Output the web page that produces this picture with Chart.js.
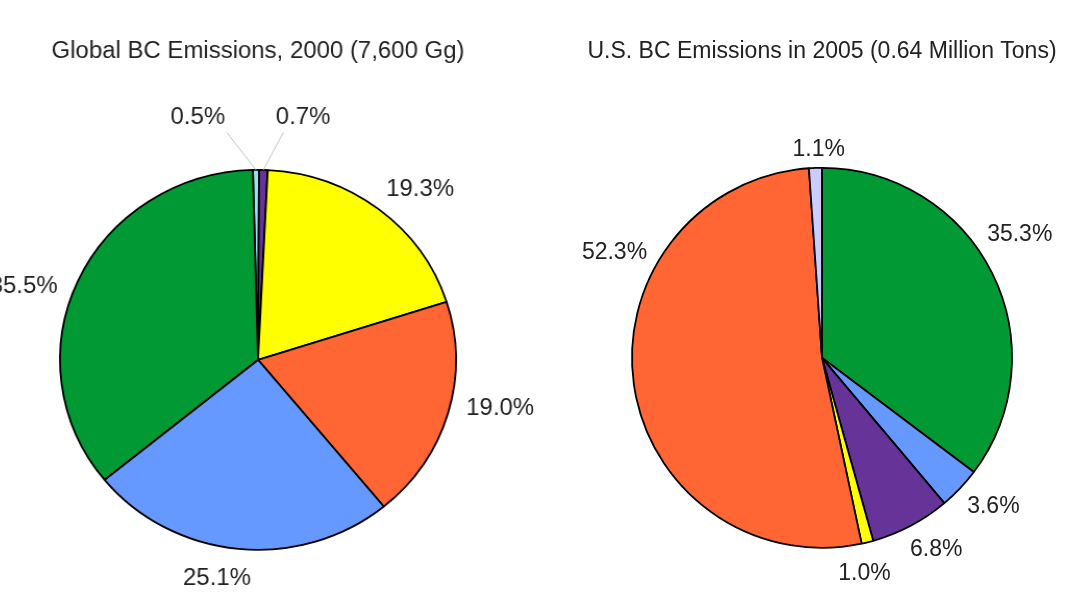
<!DOCTYPE html>
<html>
<head>
<meta charset="utf-8">
<script src="https://cdn.jsdelivr.net/npm/chart.js@4"></script>
<style>
  html, body { margin: 0; padding: 0; background: #fff; width: 1066px; height: 592px; overflow: hidden; }
  .pane { position: absolute; top: 0; height: 592px; }
  /* the global panel is drawn slightly wider than tall */
  #globalPane { left: 0; width: 560px; transform: scaleX(1.042); transform-origin: 258px 0; }
  #usPane { left: 560px; width: 506px; }
</style>
</head>
<body>
<div class="pane" id="globalPane"><canvas id="globalChart"></canvas></div>
<div class="pane" id="usPane"><canvas id="usChart"></canvas></div>
<script>
// Black-carbon emissions by source sector, percent of total
const globalSectors = ['Other', 'Energy', 'Industry', 'Mobile sources', 'Residential', 'Open biomass burning'];
const globalShares  = [0.5, 0.7, 19.3, 19.0, 25.1, 35.5];
const globalColors  = ['#93e2ef', '#663399', '#ffff00', '#ff6633', '#6699ff', '#009933'];

const usSectors = ['Open biomass burning', 'Residential', 'Industry', 'Energy', 'Mobile sources', 'Other'];
const usShares  = [35.3, 3.6, 6.8, 1.0, 52.3, 1.1];
const usColors  = ['#009933', '#6699ff', '#663399', '#ffff00', '#ff6633', '#ccccff'];

// Where each percentage label sits: degrees turned from the slice middle,
// pixels beyond the rim, and whether a leader line is drawn
const globalLabelPlacement = [
  { turn: -12.7, out: 61, leader: true },
  { turn: 8.5, out: 58, leader: true },
  { turn: 4.6, out: 42 },
  { turn: -5.1, out: 47 },
  { turn: 4.6, out: 30 },
  { turn: -6.3, out: 47 }
];
const usLabelPlacement = [
  { turn: -5.8, out: 44 },
  { turn: -2.9, out: 35.5 },
  { turn: -3.1, out: 32 },
  { turn: 2.6, out: 28 },
  { turn: 35.3, out: 43.5 },
  { turn: 1.1, out: 20 }
];

const FONT = '"Liberation Sans", Arial, Helvetica, sans-serif';

// Percentage labels outside the pie, placed from each arc's own geometry
const sliceLabels = {
  id: 'sliceLabels',
  afterDatasetsDraw(chart, args, opts) {
    const ctx = chart.ctx;
    const arcs = chart.getDatasetMeta(0).data;
    const values = chart.data.datasets[0].data;
    ctx.save();
    ctx.font = opts.size + 'px ' + FONT;
    ctx.textAlign = 'center';
    ctx.textBaseline = 'middle';
    arcs.forEach((arc, i) => {
      const p = arc.getProps(['x', 'y', 'startAngle', 'endAngle', 'outerRadius'], true);
      const mid = (p.startAngle + p.endAngle) / 2;
      const place = opts.placement[i];
      const a = mid + place.turn * Math.PI / 180;
      const d = p.outerRadius + place.out;
      const lx = p.x + Math.cos(a) * d;
      const ly = p.y + Math.sin(a) * d + 2;
      if (place.leader) {
        const rx = p.x + Math.cos(mid) * p.outerRadius;
        const ry = p.y + Math.sin(mid) * p.outerRadius;
        ctx.strokeStyle = '#c6c6c6';
        ctx.lineWidth = 1;
        ctx.beginPath();
        ctx.moveTo(lx + (rx - lx) * 0.5, ly + 15);
        ctx.lineTo(rx, ry);
        ctx.stroke();
      }
      ctx.fillStyle = opts.color;
      ctx.fillText(values[i].toFixed(1) + '%', lx, ly);
    });
    ctx.restore();
  }
};

function makePie(canvasId, cfg) {
  return new Chart(document.getElementById(canvasId), {
    type: 'pie',
    data: {
      labels: cfg.labels,
      datasets: [{
        data: cfg.values,
        backgroundColor: cfg.colors,
        borderColor: '#000',
        borderWidth: 1.8,
        hoverOffset: 0
      }]
    },
    options: {
      responsive: true,
      maintainAspectRatio: false,
      animation: false,
      events: [],
      rotation: cfg.rotation,
      radius: cfg.radius,
      layout: { padding: cfg.padding },
      plugins: {
        legend: { display: false },
        tooltip: { enabled: false },
        title: {
          display: true,
          text: cfg.title,
          color: '#222',
          font: { family: FONT, size: 23, weight: 'normal' },
          padding: cfg.titlePadding
        },
        sliceLabels: { placement: cfg.placement, size: 23, color: '#222' }
      }
    },
    plugins: [sliceLabels]
  });
}

makePie('globalChart', {
  labels: globalSectors,
  values: globalShares,
  colors: globalColors,
  placement: globalLabelPlacement,
  title: 'Global BC Emissions, 2000 (7,600 Gg)',
  rotation: -1.5,
  radius: 190,
  padding: { right: 44 },
  titlePadding: { top: 38, bottom: 62 }
});

makePie('usChart', {
  labels: usSectors,
  values: usShares,
  colors: usColors,
  placement: usLabelPlacement,
  title: 'U.S. BC Emissions in 2005 (0.64 Million Tons)',
  rotation: 0,
  radius: 190,
  padding: { left: 18 },
  titlePadding: { top: 38, bottom: 58 }
});
</script>
</body>
</html>
